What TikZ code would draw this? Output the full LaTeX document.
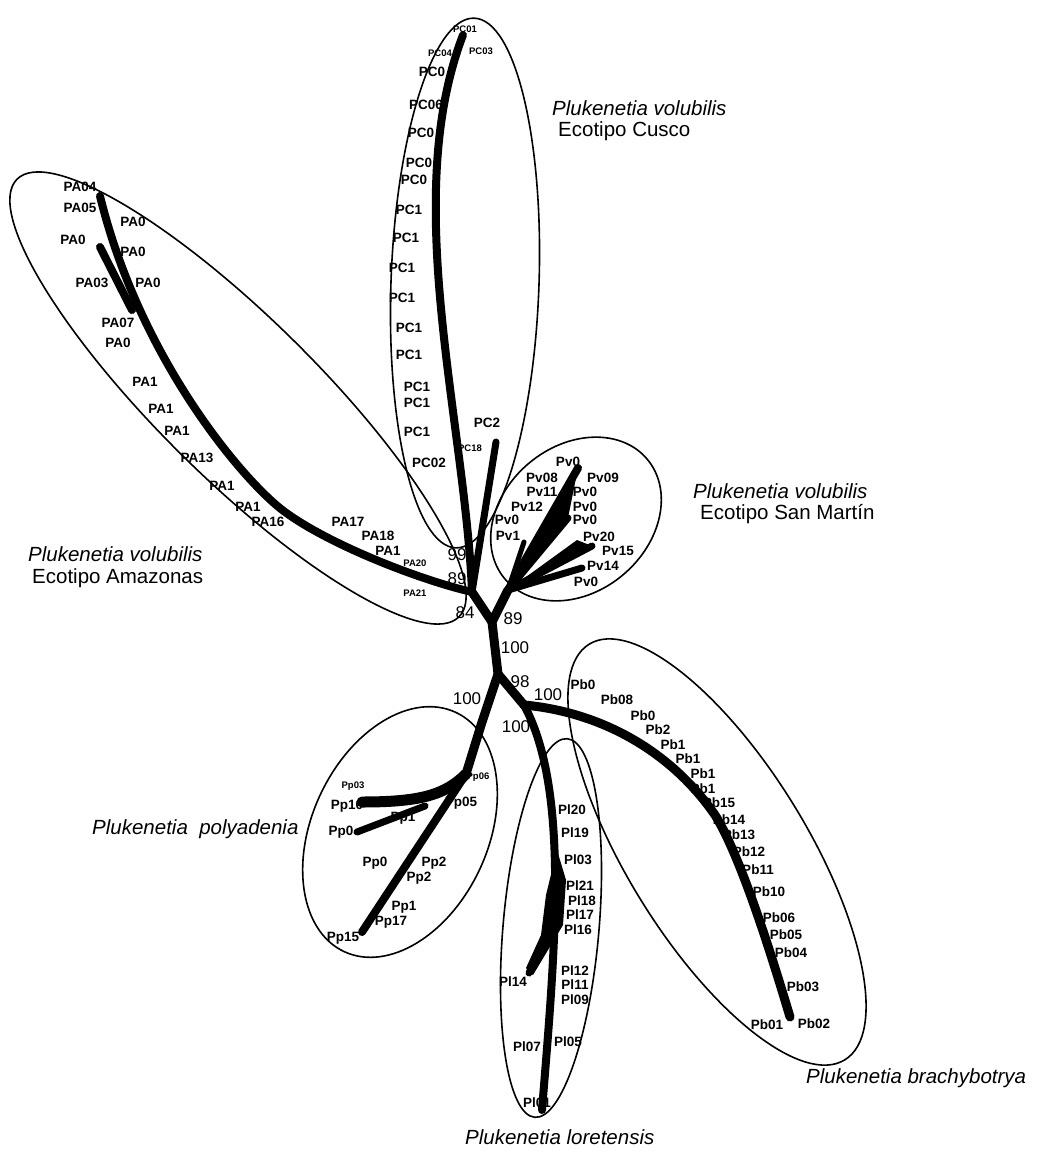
\documentclass[tikz,border=0pt]{standalone}
\usepackage{fontspec}
\setmainfont{Liberation Sans}
\usetikzlibrary{positioning}
\tikzset{
  % ramas
  br/.style={line width=8pt,line cap=round,line join=round},
  grp/.style={line width=1.6pt},
  % etiquetas
  lf/.style={font=\fontsize{13.5}{14}\selectfont\bfseries,inner sep=0pt},
  lfs/.style={font=\fontsize{9.5}{10}\selectfont\bfseries,inner sep=0pt},
  bs/.style={font=\fontsize{17}{18}\selectfont,inner sep=0pt},
  sp/.style={font=\fontsize{20.5}{21}\selectfont\itshape,inner sep=0pt,anchor=west},
  eco/.style={font=\fontsize{20.5}{21}\selectfont,inner sep=0pt,anchor=west},
}
\begin{document}
\begin{tikzpicture}[x=1pt,y=-1pt]
  \useasboundingbox (0,0) rectangle (1047,1157);
  % grupos
  \draw[grp,rotate around={-2:(465,283)}] (465,283) ellipse [x radius=74,y radius=265];
  \draw[grp,rotate around={-44.7:(238,398)}] (238,398) ellipse [x radius=311,y radius=80];
  \draw[grp,rotate around={40:(576,519)}] (576,519) ellipse [x radius=93,y radius=73];
  \draw[grp,rotate around={-25:(400,832)}] (400,832) ellipse [x radius=88,y radius=132];
  \draw[grp,rotate around={-4.9:(551,928)}] (551,928) ellipse [x radius=48,y radius=190];
  \draw[grp,rotate around={-58.4:(717,852)}] (717,852) ellipse [x radius=244,y radius=90];
  % nudos
  \coordinate (j1) at (472,592);
  \coordinate (j2) at (492,622);
  \coordinate (j3) at (498,674);
  \coordinate (j4) at (524,705);
  \coordinate (pct) at (463,35);
  \coordinate (pc2t) at (496,442);
  \coordinate (pam) at (285,512);
  \coordinate (pat) at (100,196);
  \coordinate (pab) at (132,310);
  \coordinate (pa2t) at (100,247);
  \coordinate (pvh) at (508,590);
  \coordinate (pvt1) at (578,468);
  \coordinate (pvt2) at (568,518);
  \coordinate (pvt3) at (592,546);
  \coordinate (pvt4) at (582,568);
  \coordinate (pvt5) at (524,542);
  \coordinate (ppa) at (482,722);
  \coordinate (pph) at (466,774);
  \coordinate (pp10t) at (362,802);
  \coordinate (ppb) at (425,806);
  \coordinate (pp0t) at (357,832);
  \coordinate (pp15t) at (362,932);
  \coordinate (plt) at (542,1110);
  \coordinate (plb) at (552,922);
  \coordinate (pl14t) at (529,973);
  \coordinate (pbm) at (715,815);
  \coordinate (pbt) at (790,1017);
  % arbol
  \draw[br] (j1) .. controls (465,420) and (400,200) .. (pct);
  \draw[br,line width=7pt] (j1) -- (pc2t);
  \draw[br] (j1) .. controls (420,580) and (330,545) .. (pam)
                 .. controls (245,483) and (140,360) .. (pat);
  \draw[br] (pab) -- (pa2t);
  \draw[br,line width=9pt] (j1) -- (j2) -- (pvh);
  \draw[br,line width=9pt] (j2) -- (j3) -- (ppa) -- (pph);
  \draw[br,line width=9pt] (j3) -- (j4);
  \draw[br] (pvh) -- (pvt1);
  \draw[br,line width=7pt] (pvh) -- (pvt2);
  \draw[br,line width=7pt] (pvh) -- (pvt3);
  \draw[br,line width=7pt] (pvh) -- (pvt4);
  \draw[br,line width=5pt] (pvh) -- (pvt5);
  \fill (pvh) -- (pvt1) -- (pvt2) -- cycle;
  \fill (pvh) -- (pvt3) -- (577,540) -- cycle;
  \draw[br,line width=11pt] (pph) .. controls (445,795) and (420,802) .. (pp10t);
  \draw[br,line width=7pt] (ppb) -- (pp0t);
  \draw[br] (pph) -- (pp15t);
  \draw[br] (j4) .. controls (570,790) and (555,950) .. (plt);
  \fill (557,850) -- (566,880) -- (563,925) -- (548,950) -- (533,975)
        -- (526,968) -- (541,935) -- (546,895) -- cycle;
  \draw[br,line width=7pt] (plb) -- (pl14t);
  \draw[br,line width=9pt] (j4) .. controls (600,712) and (670,750) .. (pbm)
                 .. controls (740,855) and (770,950) .. (pbt);
  % soporte
  \node[bs] (b99) at (457,555) {99};
  \node[bs] (b89a) at (457,579) {89};
  \node[bs] (b84) at (465,613) {84};
  \node[bs] (b89b) at (513,619) {89};
  \node[bs] (b100a) at (515,648) {100};
  \node[bs] (b98) at (520,682) {98};
  \node[bs] (b100b) at (467,699) {100};
  \node[bs] (b100c) at (548,695) {100};
  \node[bs] (b100d) at (516,727) {100};
  % Cusco
  \node[lfs] (pc01) at (465,29) {PC01};
  \node[lfs] (pc04) at (440,53) {PC04};
  \node[lfs] (pc03) at (481,51) {PC03};
  \node[lf] (pc0a) at (432,72) {PC0};
  \node[lf] (pc06) at (426,105) {PC06};
  \node[lf] (pc0b) at (421,133) {PC0};
  \node[lf] (pc0c) at (419,163) {PC0};
  \node[lf] (pc0d) at (414,180) {PC0};
  \node[lf] (pc1a) at (409,210) {PC1};
  \node[lf] (pc1b) at (406,238) {PC1};
  \node[lf] (pc1c) at (402,268) {PC1};
  \node[lf] (pc1d) at (402,298) {PC1};
  \node[lf] (pc1e) at (409,328) {PC1};
  \node[lf] (pc1f) at (409,355) {PC1};
  \node[lf] (pc1g) at (417,387) {PC1};
  \node[lf] (pc1h) at (417,403) {PC1};
  \node[lf] (pc1i) at (417,432) {PC1};
  \node[lf] (pc02) at (429,463) {PC02};
  \node[lf] (pc2) at (487,423) {PC2};
  \node[lfs] (pc18) at (470,448) {PC18};
  % Amazonas
  \node[lf] (pa04) at (80,187) {PA04};
  \node[lf] (pa05) at (80,208) {PA05};
  \node[lf] (pa0a) at (133,222) {PA0};
  \node[lf] (pa0b) at (73,240) {PA0};
  \node[lf] (pa0c) at (133,252) {PA0};
  \node[lf] (pa03) at (92,283) {PA03};
  \node[lf] (pa0d) at (148,283) {PA0};
  \node[lf] (pa07) at (118,323) {PA07};
  \node[lf] (pa0e) at (118,343) {PA0};
  \node[lf] (pa1a) at (145,382) {PA1};
  \node[lf] (pa1b) at (161,409) {PA1};
  \node[lf] (pa1c) at (177,431) {PA1};
  \node[lf] (pa13) at (197,458) {PA13};
  \node[lf] (pa1d) at (222,486) {PA1};
  \node[lf] (pa1e) at (248,507) {PA1};
  \node[lf] (pa16) at (268,522) {PA16};
  \node[lf] (pa17) at (348,522) {PA17};
  \node[lf] (pa18) at (378,536) {PA18};
  \node[lf] (pa1f) at (388,551) {PA1};
  \node[lfs] (pa20) at (415,563) {PA20};
  \node[lfs] (pa21) at (415,593) {PA21};
  % San Martin
  \node[lf] (pv0a) at (568,462) {Pv0};
  \node[lf] (pv08) at (542,478) {Pv08};
  \node[lf] (pv09) at (603,478) {Pv09};
  \node[lf] (pv11) at (542,492) {Pv11};
  \node[lf] (pv0b) at (585,492) {Pv0};
  \node[lf] (pv12) at (527,507) {Pv12};
  \node[lf] (pv0c) at (585,507) {Pv0};
  \node[lf] (pv0d) at (507,520) {Pv0};
  \node[lf] (pv0e) at (585,520) {Pv0};
  \node[lf] (pv1) at (508,536) {Pv1};
  \node[lf] (pv20) at (599,537) {Pv20};
  \node[lf] (pv15) at (618,551) {Pv15};
  \node[lf] (pv14) at (603,566) {Pv14};
  \node[lf] (pv0f) at (586,582) {Pv0};
  % polyadenia
  \node[lfs] (pp03) at (353,786) {Pp03};
  \node[lf] (pp10) at (347,806) {Pp10};
  \node[lf] (pp1a) at (403,818) {Pp1};
  \node[lf] (pp0a) at (341,832) {Pp0};
  \node[lfs] (pp06) at (478,777) {Pp06};
  \node[lf] (pp05) at (461,803) {Pp05};
  \node[lf] (pp0b) at (375,863) {Pp0};
  \node[lf] (pp2a) at (434,863) {Pp2};
  \node[lf] (pp2b) at (419,878) {Pp2};
  \node[lf] (pp1b) at (404,907) {Pp1};
  \node[lf] (pp17) at (391,922) {Pp17};
  \node[lf] (pp15) at (343,938) {Pp15};
  % loretensis
  \node[lf] (pl20) at (572,810) {Pl20};
  \node[lf] (pl19) at (575,833) {Pl19};
  \node[lf] (pl03) at (578,860) {Pl03};
  \node[lf] (pl21) at (580,886) {Pl21};
  \node[lf] (pl18) at (582,901) {Pl18};
  \node[lf] (pl17) at (580,915) {Pl17};
  \node[lf] (pl16) at (578,930) {Pl16};
  \node[lf] (pl12) at (575,971) {Pl12};
  \node[lf] (pl11) at (575,985) {Pl11};
  \node[lf] (pl09) at (575,1000) {Pl09};
  \node[lf] (pl14) at (513,982) {Pl14};
  \node[lf] (pl07) at (527,1047) {Pl07};
  \node[lf] (pl05) at (568,1042) {Pl05};
  \node[lf] (pl01) at (537,1103) {Pl01};
  % brachybotrya
  \node[lf] (pb0a) at (583,685) {Pb0};
  \node[lf] (pb08) at (617,700) {Pb08};
  \node[lf] (pb0b) at (643,716) {Pb0};
  \node[lf] (pb2) at (658,730) {Pb2};
  \node[lf] (pb1a) at (673,745) {Pb1};
  \node[lf] (pb1b) at (688,759) {Pb1};
  \node[lf] (pb1c) at (703,774) {Pb1};
  \node[lf] (pb1d) at (703,789) {Pb1};
  \node[lf] (pb15) at (719,803) {Pb15};
  \node[lf] (pb14) at (729,820) {Pb14};
  \node[lf] (pb13) at (739,835) {Pb13};
  \node[lf] (pb12) at (749,852) {Pb12};
  \node[lf] (pb11) at (758,870) {Pb11};
  \node[lf] (pb10) at (769,892) {Pb10};
  \node[lf] (pb06) at (779,918) {Pb06};
  \node[lf] (pb05) at (786,935) {Pb05};
  \node[lf] (pb04) at (791,953) {Pb04};
  \node[lf] (pb03) at (803,987) {Pb03};
  \node[lf] (pb01) at (767,1025) {Pb01};
  \node[lf] (pb02) at (814,1024) {Pb02};
  % especies
  \node[sp] (spcu) at (552,108) {Plukenetia volubilis};
  \node[eco] (eccu) at (558,131) {Ecotipo Cusco};
  \node[sp] (spam) at (28,554) {Plukenetia volubilis};
  \node[eco] (ecam) at (32,578) {Ecotipo Amazonas};
  \node[sp] (spsm) at (693,491) {Plukenetia volubilis};
  \node[eco] (ecsm) at (700,514) {Ecotipo San Martín};
  \node[sp] (sppo) at (92,829) {Plukenetia\ \ polyadenia};
  \node[sp] (splo) at (465,1137) {Plukenetia loretensis};
  \node[sp] (spbr) at (806,1078) {Plukenetia brachybotrya};
\end{tikzpicture}
\end{document}
